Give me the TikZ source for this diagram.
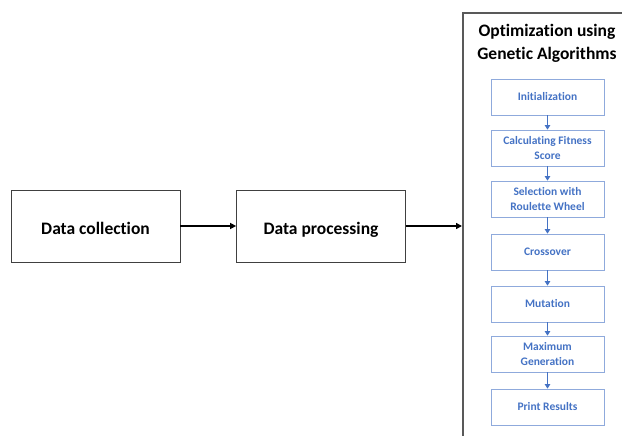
\documentclass[tikz,border=0pt]{standalone}
\usepackage{fontspec}
\setmainfont{Carlito}[Ligatures=CommonOff]
\usetikzlibrary{arrows.meta}
\definecolor{gablue}{HTML}{4472C4}
\definecolor{galine}{HTML}{8FAADC}
\begin{document}
\begin{tikzpicture}[x=1pt,y=-1pt,
  mainbox/.style={draw=black!75,line width=0.8pt,minimum width=169pt,minimum height=72pt,font=\bfseries\fontsize{17.5}{20}\selectfont,inner sep=0pt,text height=17pt,text depth=1pt},
  gabox/.style={draw=galine,line width=0.8pt,minimum width=113pt,minimum height=36pt,text=gablue,align=center,font=\bfseries\fontsize{11.5}{15}\selectfont,inner sep=0pt},
  mainarrow/.style={-{Triangle[length=6pt,width=6pt]},line width=1.6pt,black},
  gaarrow/.style={-{Triangle[length=4.5pt,width=5.5pt]},line width=1pt,gablue}]
\useasboundingbox (0,0) rectangle (622,436);
\begin{scope}
\clip (0,0) rectangle (622,436);
\node[draw=black!65,line width=1.6pt,minimum width=180pt,minimum height=440pt,anchor=north west,inner sep=0pt] (ga) at (462,12) {};
\end{scope}
\node[align=center,font=\bfseries\fontsize{17.5}{23}\selectfont] (title) at (547,43) {Optimization using\\Genetic Algorithms};
\node[mainbox] (dc) at (95.5,226) {Data collection};
\node[mainbox] (dp) at (321,226) {Data processing};
\coordinate (gain) at (462,226);
\draw[mainarrow] (dc.east) -- (dp.west);
\draw[mainarrow] (dp.east) -- (gain);
\node[gabox] (g1) at (547.5,97) {Initialization};
\node[gabox] (g2) at (547.5,148) {Calculating Fitness\\Score};
\node[gabox] (g3) at (547.5,199) {Selection with\\Roulette Wheel};
\node[gabox] (g4) at (547.5,252) {Crossover};
\node[gabox] (g5) at (547.5,304) {Mutation};
\node[gabox] (g6) at (547.5,354) {Maximum\\Generation};
\node[gabox] (g7) at (547.5,407) {Print Results};
\foreach \a/\b in {g1/g2,g2/g3,g3/g4,g4/g5,g5/g6,g6/g7}
  \draw[gaarrow] (\a.south) -- (\b.north);
\end{tikzpicture}
\end{document}
